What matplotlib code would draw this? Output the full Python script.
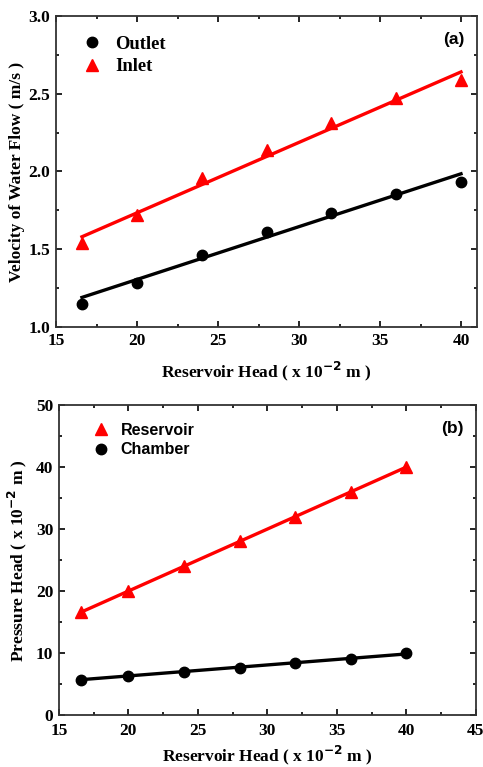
import matplotlib.pyplot as plt
from matplotlib.ticker import MultipleLocator

# ---------------- data ----------------
head = [16.6, 20, 24, 28, 32, 36, 40]

# (a) velocity of water flow (m/s)
outlet = [1.15, 1.285, 1.46, 1.61, 1.73, 1.855, 1.935]
inlet = [1.54, 1.72, 1.96, 2.14, 2.31, 2.47, 2.59]
fit_x = [16.6, 40]
outlet_fit = [1.19, 1.985]
inlet_fit = [1.58, 2.64]

# (b) pressure head (x 10^-2 m)
reservoir = [16.6, 20, 24, 28, 32, 36, 40]
chamber = [5.7, 6.35, 7.0, 7.55, 8.35, 9.05, 10.0]
chamber_fit = [5.7, 9.85]

serif = 'Liberation Serif'
sans = 'Liberation Sans'
RED = '#ff0000'
TICK = 12.5
LAB = 12.5

fig = plt.figure(figsize=(4.83, 7.67), dpi=100)
ax1 = fig.add_axes([0.116, 0.5737, 0.872, 0.4055])
ax2 = fig.add_axes([0.122, 0.0678, 0.863, 0.404])


def style(ax):
    ax.tick_params(which='both', direction='in', top=True, right=True,
                   labelsize=TICK, width=1.2)
    ax.tick_params(which='major', length=4, pad=4)
    ax.tick_params(which='minor', length=2.5)
    for lab in ax.get_xticklabels() + ax.get_yticklabels():
        lab.set_fontfamily(serif)
        lab.set_fontweight('bold')
    for s in ax.spines.values():
        s.set_linewidth(1.3)
        s.set_color('#333333')


xlab = 'Reservoir Head ( x 10$^{\\mathbf{-2}}$ m )'

# ---------------- panel (a) ----------------
ax1.plot(fit_x, inlet_fit, color=RED, lw=2.4)
ax1.plot(fit_x, outlet_fit, color='black', lw=2.4)
ax1.plot(head, outlet, 'o', color='black', ms=7.5, label='Outlet')
ax1.plot(head, inlet, '^', color=RED, ms=8, label='Inlet')
ax1.set_xlim(15, 41)
ax1.set_ylim(1.0, 3.0)
ax1.xaxis.set_major_locator(MultipleLocator(5))
ax1.xaxis.set_minor_locator(MultipleLocator(2.5))
ax1.yaxis.set_major_locator(MultipleLocator(0.5))
ax1.yaxis.set_minor_locator(MultipleLocator(0.25))
ax1.yaxis.set_major_formatter(plt.FormatStrFormatter('%.1f'))
ax1.set_xlabel(xlab, fontfamily=serif, fontweight='bold', fontsize=LAB,
               labelpad=8)
ax1.set_ylabel('Velocity of Water Flow ( m/s )', fontfamily=serif,
               fontweight='bold', fontsize=LAB, labelpad=3)
style(ax1)
ax1.legend(loc='upper left', bbox_to_anchor=(0.01, 0.99), frameon=False,
           handletextpad=0.45, labelspacing=0.3, handlelength=1.6,
           prop={'family': serif, 'weight': 'bold', 'size': 13.4})
ax1.text(0.97, 0.925, '(a)', transform=ax1.transAxes, ha='right', va='center',
         fontfamily=sans, fontweight='bold', fontsize=12.5)

# ---------------- panel (b) ----------------
ax2.plot(head, reservoir, '-', color=RED, lw=2.4)
ax2.plot(head, reservoir, '^', color=RED, ms=8, label='Reservoir')
ax2.plot(fit_x, chamber_fit, color='black', lw=2.4)
ax2.plot(head, chamber, 'o', color='black', ms=7.5, label='Chamber')
ax2.set_xlim(15, 45)
ax2.set_ylim(0, 50)
ax2.xaxis.set_major_locator(MultipleLocator(5))
ax2.xaxis.set_minor_locator(MultipleLocator(2.5))
ax2.yaxis.set_major_locator(MultipleLocator(10))
ax2.yaxis.set_minor_locator(MultipleLocator(5))
ax2.set_xlabel(xlab, fontfamily=serif, fontweight='bold', fontsize=LAB,
               labelpad=3)
ax2.set_ylabel('Pressure Head ( x 10$^{\\mathbf{-2}}$ m )', fontfamily=serif,
               fontweight='bold', fontsize=LAB, labelpad=5)
style(ax2)
ax2.tick_params(axis='x', which='major', pad=6)
ax2.legend(loc='upper left', bbox_to_anchor=(0.035, 0.99), frameon=False,
           handletextpad=0.45, labelspacing=0.3, handlelength=1.6,
           prop={'family': sans, 'weight': 'bold', 'size': 11.5})
ax2.text(0.97, 0.925, '(b)', transform=ax2.transAxes, ha='right', va='center',
         fontfamily=sans, fontweight='bold', fontsize=12.5)

fig.savefig('out.png', dpi=100)
